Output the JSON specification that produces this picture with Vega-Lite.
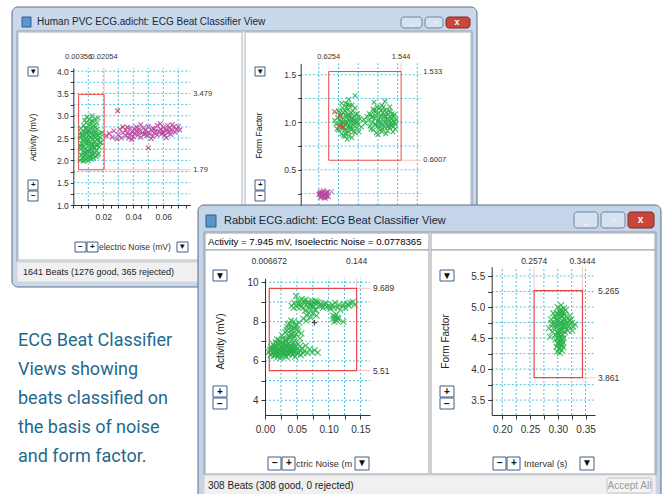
{
"$schema": "https://vega.github.io/schema/vega-lite/v6.json",
"width": 665, "height": 494, "autosize": "none", "padding": 0, "background": "white",
"config": {"view": {"stroke": null}, "font": "Liberation Sans",
  "axis": {"grid": false, "domainColor": "#333", "tickColor": "#333", "labelColor": "#333", "labelFont": "Liberation Sans", "titleFont": "Liberation Sans", "titleFontWeight": "normal", "titleColor": "#222", "labelOverlap": false, "labelFlush": false, "labelBound": false}},
"datasets": {
"pts": [
{"p":"A","c":"g","x":0.0045,"y":2.00},{"p":"A","c":"g","x":0.0052,"y":2.12},{"p":"A","c":"g","x":0.0048,"y":2.25},{"p":"A","c":"g","x":0.0055,"y":2.38},{"p":"A","c":"g","x":0.0047,"y":2.50},{"p":"A","c":"g","x":0.0053,"y":2.62},{"p":"A","c":"g","x":0.0050,"y":2.72},
{"p":"A","c":"g","x":0.0065,"y":1.98},{"p":"A","c":"g","x":0.0068,"y":2.08},{"p":"A","c":"g","x":0.0063,"y":2.20},{"p":"A","c":"g","x":0.0070,"y":2.31},{"p":"A","c":"g","x":0.0066,"y":2.44},{"p":"A","c":"g","x":0.0072,"y":2.55},{"p":"A","c":"g","x":0.0064,"y":2.66},{"p":"A","c":"g","x":0.0069,"y":2.78},
{"p":"A","c":"g","x":0.0082,"y":2.02},{"p":"A","c":"g","x":0.0085,"y":2.15},{"p":"A","c":"g","x":0.0080,"y":2.27},{"p":"A","c":"g","x":0.0088,"y":2.36},{"p":"A","c":"g","x":0.0083,"y":2.48},{"p":"A","c":"g","x":0.0087,"y":2.60},{"p":"A","c":"g","x":0.0081,"y":2.71},{"p":"A","c":"g","x":0.0086,"y":2.85},{"p":"A","c":"g","x":0.0090,"y":2.97},
{"p":"A","c":"g","x":0.0100,"y":1.99},{"p":"A","c":"g","x":0.0104,"y":2.10},{"p":"A","c":"g","x":0.0098,"y":2.22},{"p":"A","c":"g","x":0.0106,"y":2.33},{"p":"A","c":"g","x":0.0101,"y":2.45},{"p":"A","c":"g","x":0.0105,"y":2.57},{"p":"A","c":"g","x":0.0099,"y":2.68},{"p":"A","c":"g","x":0.0103,"y":2.80},{"p":"A","c":"g","x":0.0108,"y":2.92},
{"p":"A","c":"g","x":0.0118,"y":2.03},{"p":"A","c":"g","x":0.0122,"y":2.14},{"p":"A","c":"g","x":0.0116,"y":2.26},{"p":"A","c":"g","x":0.0124,"y":2.39},{"p":"A","c":"g","x":0.0119,"y":2.51},{"p":"A","c":"g","x":0.0121,"y":2.63},{"p":"A","c":"g","x":0.0126,"y":2.74},{"p":"A","c":"g","x":0.0120,"y":2.88},{"p":"A","c":"g","x":0.0125,"y":3.00},
{"p":"A","c":"g","x":0.0135,"y":2.05},{"p":"A","c":"g","x":0.0140,"y":2.18},{"p":"A","c":"g","x":0.0137,"y":2.30},{"p":"A","c":"g","x":0.0142,"y":2.42},{"p":"A","c":"g","x":0.0138,"y":2.54},{"p":"A","c":"g","x":0.0141,"y":2.66},{"p":"A","c":"g","x":0.0136,"y":2.77},{"p":"A","c":"g","x":0.0144,"y":2.93},
{"p":"A","c":"g","x":0.0152,"y":2.08},{"p":"A","c":"g","x":0.0156,"y":2.22},{"p":"A","c":"g","x":0.0150,"y":2.35},{"p":"A","c":"g","x":0.0158,"y":2.47},{"p":"A","c":"g","x":0.0154,"y":2.58},{"p":"A","c":"g","x":0.0160,"y":2.70},{"p":"A","c":"g","x":0.0157,"y":2.84},
{"p":"A","c":"g","x":0.0168,"y":2.15},{"p":"A","c":"g","x":0.0172,"y":2.30},{"p":"A","c":"g","x":0.0170,"y":2.45},{"p":"A","c":"g","x":0.0175,"y":2.60},{"p":"A","c":"g","x":0.0180,"y":2.52},{"p":"A","c":"g","x":0.0185,"y":2.40},{"p":"A","c":"g","x":0.0190,"y":2.62},{"p":"A","c":"g","x":0.0165,"y":2.95},
{"p":"A","c":"g","x":0.0058,"y":2.05},{"p":"A","c":"g","x":0.0075,"y":2.18},{"p":"A","c":"g","x":0.0092,"y":2.41},{"p":"A","c":"g","x":0.0111,"y":2.52},{"p":"A","c":"g","x":0.0130,"y":2.35},{"p":"A","c":"g","x":0.0061,"y":2.58},{"p":"A","c":"g","x":0.0095,"y":2.64},{"p":"A","c":"g","x":0.0128,"y":2.47},{"p":"A","c":"g","x":0.0078,"y":2.40},{"p":"A","c":"g","x":0.0112,"y":2.20},
{"p":"A","c":"g","x":0.0057,"y":2.30},{"p":"A","c":"g","x":0.0062,"y":2.46},{"p":"A","c":"g","x":0.0074,"y":2.62},{"p":"A","c":"g","x":0.0079,"y":2.10},{"p":"A","c":"g","x":0.0091,"y":2.20},{"p":"A","c":"g","x":0.0093,"y":2.52},{"p":"A","c":"g","x":0.0096,"y":2.06},{"p":"A","c":"g","x":0.0109,"y":2.40},{"p":"A","c":"g","x":0.0113,"y":2.62},{"p":"A","c":"g","x":0.0114,"y":2.08},{"p":"A","c":"g","x":0.0127,"y":2.20},{"p":"A","c":"g","x":0.0131,"y":2.58},{"p":"A","c":"g","x":0.0133,"y":2.12},{"p":"A","c":"g","x":0.0145,"y":2.28},{"p":"A","c":"g","x":0.0147,"y":2.50},{"p":"A","c":"g","x":0.0149,"y":2.62},{"p":"A","c":"g","x":0.0162,"y":2.35},{"p":"A","c":"g","x":0.0163,"y":2.55},{"p":"A","c":"g","x":0.0178,"y":2.40},{"p":"A","c":"g","x":0.0076,"y":2.90},{"p":"A","c":"g","x":0.0113,"y":2.83},{"p":"A","c":"g","x":0.0134,"y":2.86},{"p":"A","c":"g","x":0.0049,"y":2.33},{"p":"A","c":"g","x":0.0054,"y":2.56},{"p":"A","c":"g","x":0.0071,"y":2.00},{"p":"A","c":"g","x":0.0089,"y":2.72},{"p":"A","c":"g","x":0.0117,"y":2.70},{"p":"A","c":"g","x":0.0148,"y":2.75},{"p":"A","c":"g","x":0.0160,"y":2.12},{"p":"A","c":"g","x":0.0123,"y":2.30},
{"p":"A","c":"m","x":0.024,"y":2.60},{"p":"A","c":"m","x":0.026,"y":2.52},{"p":"A","c":"m","x":0.027,"y":2.66},{"p":"A","c":"m","x":0.029,"y":2.48},{"p":"A","c":"m","x":0.030,"y":2.58},{"p":"A","c":"m","x":0.031,"y":2.70},{"p":"A","c":"m","x":0.032,"y":2.50},{"p":"A","c":"m","x":0.033,"y":2.62},
{"p":"A","c":"m","x":0.035,"y":2.55},{"p":"A","c":"m","x":0.035,"y":2.68},{"p":"A","c":"m","x":0.036,"y":2.61},{"p":"A","c":"m","x":0.037,"y":2.50},{"p":"A","c":"m","x":0.038,"y":2.72},{"p":"A","c":"m","x":0.038,"y":2.58},{"p":"A","c":"m","x":0.039,"y":2.64},{"p":"A","c":"m","x":0.040,"y":2.53},{"p":"A","c":"m","x":0.041,"y":2.69},{"p":"A","c":"m","x":0.041,"y":2.60},{"p":"A","c":"m","x":0.042,"y":2.75},{"p":"A","c":"m","x":0.043,"y":2.56},{"p":"A","c":"m","x":0.044,"y":2.64},{"p":"A","c":"m","x":0.044,"y":2.70},{"p":"A","c":"m","x":0.045,"y":2.52},{"p":"A","c":"m","x":0.046,"y":2.62},{"p":"A","c":"m","x":0.047,"y":2.73},{"p":"A","c":"m","x":0.047,"y":2.58},{"p":"A","c":"m","x":0.048,"y":2.67},{"p":"A","c":"m","x":0.049,"y":2.55},{"p":"A","c":"m","x":0.050,"y":2.63},{"p":"A","c":"m","x":0.050,"y":2.76},{"p":"A","c":"m","x":0.051,"y":2.59},{"p":"A","c":"m","x":0.052,"y":2.68},{"p":"A","c":"m","x":0.053,"y":2.54},{"p":"A","c":"m","x":0.053,"y":2.72},{"p":"A","c":"m","x":0.054,"y":2.62},{"p":"A","c":"m","x":0.055,"y":2.66},{"p":"A","c":"m","x":0.056,"y":2.57},{"p":"A","c":"m","x":0.056,"y":2.78},{"p":"A","c":"m","x":0.057,"y":2.64},{"p":"A","c":"m","x":0.058,"y":2.70},{"p":"A","c":"m","x":0.059,"y":2.60},{"p":"A","c":"m","x":0.060,"y":2.74},{"p":"A","c":"m","x":0.060,"y":2.66},{"p":"A","c":"m","x":0.061,"y":2.56},{"p":"A","c":"m","x":0.062,"y":2.69},{"p":"A","c":"m","x":0.063,"y":2.78},{"p":"A","c":"m","x":0.063,"y":2.62},{"p":"A","c":"m","x":0.064,"y":2.72},{"p":"A","c":"m","x":0.065,"y":2.58},{"p":"A","c":"m","x":0.066,"y":2.67},{"p":"A","c":"m","x":0.067,"y":2.75},{"p":"A","c":"m","x":0.068,"y":2.63},{"p":"A","c":"m","x":0.069,"y":2.70},{"p":"A","c":"m","x":0.070,"y":2.76},{"p":"A","c":"m","x":0.071,"y":2.68},
{"p":"A","c":"m","x":0.039,"y":2.47},{"p":"A","c":"m","x":0.045,"y":2.80},{"p":"A","c":"m","x":0.052,"y":2.49},{"p":"A","c":"m","x":0.058,"y":2.82},{"p":"A","c":"m","x":0.062,"y":2.51},{"p":"A","c":"m","x":0.066,"y":2.80},{"p":"A","c":"m","x":0.042,"y":2.66},{"p":"A","c":"m","x":0.048,"y":2.60},{"p":"A","c":"m","x":0.054,"y":2.70},{"p":"A","c":"m","x":0.060,"y":2.61},{"p":"A","c":"m","x":0.064,"y":2.65},{"p":"A","c":"m","x":0.036,"y":2.74},
{"p":"A","c":"r","x":0.0296,"y":3.11},{"p":"A","c":"r","x":0.050,"y":2.28},{"p":"A","c":"r","x":0.022,"y":2.55},{"p":"A","c":"r","x":0.033,"y":2.75},
{"p":"B","c":"g","x":0.72,"y":0.98},{"p":"B","c":"g","x":0.74,"y":1.05},{"p":"B","c":"g","x":0.75,"y":0.92},{"p":"B","c":"g","x":0.77,"y":1.10},{"p":"B","c":"g","x":0.78,"y":1.00},{"p":"B","c":"g","x":0.79,"y":0.88},{"p":"B","c":"g","x":0.80,"y":1.15},{"p":"B","c":"g","x":0.81,"y":1.04},{"p":"B","c":"g","x":0.82,"y":0.95},{"p":"B","c":"g","x":0.83,"y":0.85},{"p":"B","c":"g","x":0.84,"y":1.20},{"p":"B","c":"g","x":0.84,"y":1.08},{"p":"B","c":"g","x":0.85,"y":0.99},{"p":"B","c":"g","x":0.86,"y":0.91},{"p":"B","c":"g","x":0.87,"y":1.13},{"p":"B","c":"g","x":0.87,"y":1.03},{"p":"B","c":"g","x":0.88,"y":0.86},{"p":"B","c":"g","x":0.89,"y":0.96},{"p":"B","c":"g","x":0.89,"y":1.18},{"p":"B","c":"g","x":0.90,"y":1.07},{"p":"B","c":"g","x":0.91,"y":0.93},{"p":"B","c":"g","x":0.92,"y":1.01},{"p":"B","c":"g","x":0.92,"y":0.84},{"p":"B","c":"g","x":0.93,"y":1.12},{"p":"B","c":"g","x":0.94,"y":0.97},{"p":"B","c":"g","x":0.95,"y":1.06},{"p":"B","c":"g","x":0.96,"y":0.89},{"p":"B","c":"g","x":0.97,"y":1.02},{"p":"B","c":"g","x":0.98,"y":0.94},{"p":"B","c":"g","x":0.99,"y":1.09},{"p":"B","c":"g","x":1.00,"y":0.98},{"p":"B","c":"g","x":1.02,"y":1.04},{"p":"B","c":"g","x":1.04,"y":0.95},{"p":"B","c":"g","x":0.70,"y":1.02},{"p":"B","c":"g","x":0.76,"y":0.96},{"p":"B","c":"g","x":0.80,"y":0.93},{"p":"B","c":"g","x":0.83,"y":1.12},{"p":"B","c":"g","x":0.86,"y":0.82},{"p":"B","c":"g","x":0.88,"y":1.24},{"p":"B","c":"g","x":0.90,"y":1.00},{"p":"B","c":"g","x":0.85,"y":1.05},{"p":"B","c":"g","x":0.91,"y":1.10},{"p":"B","c":"g","x":0.94,"y":0.90},{"p":"B","c":"g","x":0.96,"y":1.15},{"p":"B","c":"g","x":0.82,"y":1.00},{"p":"B","c":"g","x":0.87,"y":0.95},{"p":"B","c":"g","x":0.93,"y":1.04},{"p":"B","c":"g","x":0.78,"y":1.06},{"p":"B","c":"g","x":1.01,"y":0.90},{"p":"B","c":"g","x":0.99,"y":1.00},
{"p":"B","c":"g","x":0.73,"y":0.93},{"p":"B","c":"g","x":0.75,"y":1.12},{"p":"B","c":"g","x":0.79,"y":1.20},{"p":"B","c":"g","x":0.81,"y":0.86},{"p":"B","c":"g","x":0.83,"y":0.92},{"p":"B","c":"g","x":0.85,"y":1.16},{"p":"B","c":"g","x":0.86,"y":1.00},{"p":"B","c":"g","x":0.88,"y":0.90},{"p":"B","c":"g","x":0.89,"y":1.06},{"p":"B","c":"g","x":0.92,"y":1.18},{"p":"B","c":"g","x":0.95,"y":0.99},{"p":"B","c":"g","x":0.97,"y":1.08},{"p":"B","c":"g","x":1.00,"y":1.05},{"p":"B","c":"g","x":0.79,"y":0.98},{"p":"B","c":"g","x":0.84,"y":0.97},
{"p":"B","c":"g","x":0.76,"y":1.02},{"p":"B","c":"g","x":0.81,"y":1.10},{"p":"B","c":"g","x":0.84,"y":0.88},{"p":"B","c":"g","x":0.87,"y":1.08},{"p":"B","c":"g","x":0.90,"y":0.95},{"p":"B","c":"g","x":0.93,"y":0.93},{"p":"B","c":"g","x":0.91,"y":1.04},{"p":"B","c":"g","x":0.86,"y":1.19},{"p":"B","c":"g","x":0.95,"y":1.02},{"p":"B","c":"g","x":0.80,"y":1.00},
{"p":"B","c":"g","x":1.13,"y":1.02},{"p":"B","c":"g","x":1.15,"y":0.96},{"p":"B","c":"g","x":1.16,"y":1.08},{"p":"B","c":"g","x":1.18,"y":1.00},{"p":"B","c":"g","x":1.19,"y":0.92},{"p":"B","c":"g","x":1.20,"y":1.12},{"p":"B","c":"g","x":1.21,"y":1.04},{"p":"B","c":"g","x":1.22,"y":0.97},{"p":"B","c":"g","x":1.23,"y":0.89},{"p":"B","c":"g","x":1.24,"y":1.09},{"p":"B","c":"g","x":1.25,"y":1.01},{"p":"B","c":"g","x":1.26,"y":0.94},{"p":"B","c":"g","x":1.27,"y":1.15},{"p":"B","c":"g","x":1.28,"y":1.05},{"p":"B","c":"g","x":1.29,"y":0.98},{"p":"B","c":"g","x":1.30,"y":0.90},{"p":"B","c":"g","x":1.31,"y":1.10},{"p":"B","c":"g","x":1.32,"y":1.02},{"p":"B","c":"g","x":1.33,"y":0.95},{"p":"B","c":"g","x":1.34,"y":1.13},{"p":"B","c":"g","x":1.35,"y":1.06},{"p":"B","c":"g","x":1.36,"y":0.99},{"p":"B","c":"g","x":1.37,"y":0.91},{"p":"B","c":"g","x":1.38,"y":1.08},{"p":"B","c":"g","x":1.39,"y":1.01},{"p":"B","c":"g","x":1.40,"y":0.94},{"p":"B","c":"g","x":1.41,"y":1.11},{"p":"B","c":"g","x":1.42,"y":1.04},{"p":"B","c":"g","x":1.43,"y":0.97},{"p":"B","c":"g","x":1.44,"y":0.90},{"p":"B","c":"g","x":1.45,"y":1.06},{"p":"B","c":"g","x":1.46,"y":1.00},{"p":"B","c":"g","x":1.47,"y":0.93},{"p":"B","c":"g","x":1.48,"y":1.03},{"p":"B","c":"g","x":1.22,"y":1.07},{"p":"B","c":"g","x":1.27,"y":1.00},{"p":"B","c":"g","x":1.33,"y":1.06},{"p":"B","c":"g","x":1.38,"y":0.96},{"p":"B","c":"g","x":1.43,"y":1.09},{"p":"B","c":"g","x":1.30,"y":1.18},{"p":"B","c":"g","x":1.25,"y":0.87},{"p":"B","c":"g","x":1.35,"y":0.88},{"p":"B","c":"g","x":1.40,"y":1.16},{"p":"B","c":"g","x":1.17,"y":1.05},{"p":"B","c":"g","x":1.29,"y":1.12},{"p":"B","c":"g","x":1.34,"y":1.00},{"p":"B","c":"g","x":1.42,"y":1.00},
{"p":"B","c":"g","x":1.14,"y":1.09},{"p":"B","c":"g","x":1.16,"y":0.93},{"p":"B","c":"g","x":1.19,"y":1.14},{"p":"B","c":"g","x":1.21,"y":0.98},{"p":"B","c":"g","x":1.24,"y":1.16},{"p":"B","c":"g","x":1.26,"y":1.03},{"p":"B","c":"g","x":1.28,"y":0.92},{"p":"B","c":"g","x":1.31,"y":0.97},{"p":"B","c":"g","x":1.32,"y":1.16},{"p":"B","c":"g","x":1.36,"y":1.03},{"p":"B","c":"g","x":1.39,"y":1.12},{"p":"B","c":"g","x":1.41,"y":0.97},{"p":"B","c":"g","x":1.44,"y":1.02},{"p":"B","c":"g","x":1.46,"y":1.08},{"p":"B","c":"g","x":1.37,"y":0.95},
{"p":"B","c":"g","x":1.18,"y":1.06},{"p":"B","c":"g","x":1.23,"y":1.12},{"p":"B","c":"g","x":1.25,"y":0.96},{"p":"B","c":"g","x":1.29,"y":1.07},{"p":"B","c":"g","x":1.31,"y":0.93},{"p":"B","c":"g","x":1.35,"y":1.10},{"p":"B","c":"g","x":1.38,"y":1.04},{"p":"B","c":"g","x":1.41,"y":1.06},{"p":"B","c":"g","x":1.44,"y":0.95},{"p":"B","c":"g","x":1.47,"y":0.98},
{"p":"B","c":"g","x":0.96,"y":1.28},{"p":"B","c":"g","x":1.20,"y":1.21},{"p":"B","c":"g","x":1.34,"y":1.22},{"p":"B","c":"g","x":1.07,"y":1.03},{"p":"B","c":"g","x":1.09,"y":0.99},{"p":"B","c":"g","x":1.11,"y":1.06},
{"p":"B","c":"r","x":0.70,"y":1.11},{"p":"B","c":"r","x":0.77,"y":1.07},{"p":"B","c":"r","x":0.77,"y":0.96},{"p":"B","c":"r","x":0.80,"y":0.95},
{"p":"B","c":"m","x":0.50,"y":0.24},{"p":"B","c":"m","x":0.52,"y":0.27},{"p":"B","c":"m","x":0.52,"y":0.21},{"p":"B","c":"m","x":0.54,"y":0.25},{"p":"B","c":"m","x":0.55,"y":0.22},{"p":"B","c":"m","x":0.56,"y":0.28},{"p":"B","c":"m","x":0.57,"y":0.24},{"p":"B","c":"m","x":0.58,"y":0.20},{"p":"B","c":"m","x":0.59,"y":0.26},{"p":"B","c":"m","x":0.60,"y":0.23},{"p":"B","c":"m","x":0.61,"y":0.27},{"p":"B","c":"m","x":0.62,"y":0.22},{"p":"B","c":"m","x":0.53,"y":0.23},{"p":"B","c":"m","x":0.57,"y":0.21},{"p":"B","c":"m","x":0.55,"y":0.26},{"p":"B","c":"m","x":0.59,"y":0.22},{"p":"B","c":"m","x":0.51,"y":0.25},{"p":"B","c":"m","x":0.60,"y":0.25},
{"p":"B","c":"l","x":0.66,"y":0.27},
{"p":"C","c":"g","x":0.008,"y":6.55},{"p":"C","c":"g","x":0.010,"y":6.70},{"p":"C","c":"g","x":0.012,"y":6.40},{"p":"C","c":"g","x":0.013,"y":6.85},{"p":"C","c":"g","x":0.015,"y":6.60},{"p":"C","c":"g","x":0.016,"y":6.30},{"p":"C","c":"g","x":0.017,"y":6.95},{"p":"C","c":"g","x":0.018,"y":6.50},{"p":"C","c":"g","x":0.019,"y":6.75},{"p":"C","c":"g","x":0.020,"y":6.20},{"p":"C","c":"g","x":0.021,"y":6.62},{"p":"C","c":"g","x":0.022,"y":7.05},{"p":"C","c":"g","x":0.023,"y":6.40},{"p":"C","c":"g","x":0.024,"y":6.85},{"p":"C","c":"g","x":0.025,"y":6.55},{"p":"C","c":"g","x":0.026,"y":6.28},{"p":"C","c":"g","x":0.027,"y":6.70},{"p":"C","c":"g","x":0.028,"y":7.15},{"p":"C","c":"g","x":0.029,"y":6.45},{"p":"C","c":"g","x":0.030,"y":6.90},{"p":"C","c":"g","x":0.031,"y":6.60},{"p":"C","c":"g","x":0.032,"y":6.25},{"p":"C","c":"g","x":0.033,"y":6.78},{"p":"C","c":"g","x":0.034,"y":7.00},{"p":"C","c":"g","x":0.035,"y":6.50},{"p":"C","c":"g","x":0.036,"y":6.68},{"p":"C","c":"g","x":0.037,"y":6.35},{"p":"C","c":"g","x":0.038,"y":6.88},{"p":"C","c":"g","x":0.039,"y":6.58},{"p":"C","c":"g","x":0.040,"y":7.20},{"p":"C","c":"g","x":0.041,"y":6.42},{"p":"C","c":"g","x":0.042,"y":6.75},{"p":"C","c":"g","x":0.043,"y":6.30},{"p":"C","c":"g","x":0.044,"y":6.62},{"p":"C","c":"g","x":0.045,"y":6.95},{"p":"C","c":"g","x":0.046,"y":6.48},{"p":"C","c":"g","x":0.048,"y":6.70},{"p":"C","c":"g","x":0.050,"y":6.38},{"p":"C","c":"g","x":0.052,"y":6.85},{"p":"C","c":"g","x":0.054,"y":6.55},{"p":"C","c":"g","x":0.056,"y":6.30},{"p":"C","c":"g","x":0.058,"y":6.65},{"p":"C","c":"g","x":0.061,"y":6.50},{"p":"C","c":"g","x":0.064,"y":6.78},{"p":"C","c":"g","x":0.067,"y":6.40},{"p":"C","c":"g","x":0.070,"y":6.60},{"p":"C","c":"g","x":0.074,"y":6.45},{"p":"C","c":"g","x":0.078,"y":6.55},{"p":"C","c":"g","x":0.083,"y":6.42},{"p":"C","c":"g","x":0.006,"y":6.45},{"p":"C","c":"g","x":0.009,"y":6.30},{"p":"C","c":"g","x":0.014,"y":6.25},{"p":"C","c":"g","x":0.024,"y":6.15},{"p":"C","c":"g","x":0.034,"y":6.20},{"p":"C","c":"g","x":0.019,"y":7.10},{"p":"C","c":"g","x":0.027,"y":7.30},{"p":"C","c":"g","x":0.047,"y":6.20},{"p":"C","c":"g","x":0.036,"y":7.10},{"p":"C","c":"g","x":0.015,"y":6.48},{"p":"C","c":"g","x":0.025,"y":6.72},{"p":"C","c":"g","x":0.031,"y":6.38},{"p":"C","c":"g","x":0.038,"y":6.55},{"p":"C","c":"g","x":0.021,"y":6.50},{"p":"C","c":"g","x":0.029,"y":6.62},{"p":"C","c":"g","x":0.043,"y":6.85},
{"p":"C","c":"g","x":0.011,"y":6.55},{"p":"C","c":"g","x":0.014,"y":6.75},{"p":"C","c":"g","x":0.017,"y":6.42},{"p":"C","c":"g","x":0.020,"y":6.88},{"p":"C","c":"g","x":0.022,"y":6.35},{"p":"C","c":"g","x":0.023,"y":6.62},{"p":"C","c":"g","x":0.026,"y":6.48},{"p":"C","c":"g","x":0.028,"y":6.82},{"p":"C","c":"g","x":0.030,"y":6.30},{"p":"C","c":"g","x":0.033,"y":6.52},{"p":"C","c":"g","x":0.035,"y":6.85},{"p":"C","c":"g","x":0.037,"y":6.62},{"p":"C","c":"g","x":0.040,"y":6.45},{"p":"C","c":"g","x":0.042,"y":6.58},{"p":"C","c":"g","x":0.045,"y":6.40},{"p":"C","c":"g","x":0.047,"y":6.80},{"p":"C","c":"g","x":0.049,"y":6.55},{"p":"C","c":"g","x":0.051,"y":6.62},{"p":"C","c":"g","x":0.053,"y":6.40},{"p":"C","c":"g","x":0.018,"y":6.35},{"p":"C","c":"g","x":0.026,"y":6.92},{"p":"C","c":"g","x":0.032,"y":7.05},{"p":"C","c":"g","x":0.012,"y":6.60},{"p":"C","c":"g","x":0.039,"y":6.72},{"p":"C","c":"g","x":0.044,"y":6.50},{"p":"C","c":"g","x":0.016,"y":6.70},{"p":"C","c":"g","x":0.028,"y":6.55},{"p":"C","c":"g","x":0.035,"y":6.38},{"p":"C","c":"g","x":0.055,"y":6.75},{"p":"C","c":"g","x":0.060,"y":6.40},
{"p":"C","c":"g","x":0.032,"y":7.45},{"p":"C","c":"g","x":0.035,"y":7.70},{"p":"C","c":"g","x":0.037,"y":7.30},{"p":"C","c":"g","x":0.039,"y":7.90},{"p":"C","c":"g","x":0.040,"y":7.55},{"p":"C","c":"g","x":0.042,"y":7.75},{"p":"C","c":"g","x":0.044,"y":7.40},{"p":"C","c":"g","x":0.045,"y":8.00},{"p":"C","c":"g","x":0.047,"y":7.65},{"p":"C","c":"g","x":0.049,"y":7.35},{"p":"C","c":"g","x":0.050,"y":7.85},{"p":"C","c":"g","x":0.052,"y":7.50},{"p":"C","c":"g","x":0.054,"y":7.95},{"p":"C","c":"g","x":0.038,"y":7.20},{"p":"C","c":"g","x":0.046,"y":7.25},{"p":"C","c":"g","x":0.055,"y":7.15},{"p":"C","c":"g","x":0.041,"y":8.05},
{"p":"C","c":"g","x":0.034,"y":7.55},{"p":"C","c":"g","x":0.036,"y":7.85},{"p":"C","c":"g","x":0.043,"y":7.60},{"p":"C","c":"g","x":0.048,"y":7.80},{"p":"C","c":"g","x":0.051,"y":7.60},{"p":"C","c":"g","x":0.041,"y":7.35},{"p":"C","c":"g","x":0.057,"y":7.40},{"p":"C","c":"g","x":0.045,"y":7.15},
{"p":"C","c":"g","x":0.042,"y":8.80},{"p":"C","c":"g","x":0.046,"y":8.95},{"p":"C","c":"g","x":0.049,"y":9.30},{"p":"C","c":"g","x":0.050,"y":8.75},{"p":"C","c":"g","x":0.053,"y":9.05},{"p":"C","c":"g","x":0.056,"y":8.85},{"p":"C","c":"g","x":0.058,"y":9.15},{"p":"C","c":"g","x":0.060,"y":8.70},{"p":"C","c":"g","x":0.062,"y":8.95},{"p":"C","c":"g","x":0.064,"y":9.10},{"p":"C","c":"g","x":0.066,"y":8.80},{"p":"C","c":"g","x":0.068,"y":9.00},{"p":"C","c":"g","x":0.070,"y":8.65},{"p":"C","c":"g","x":0.072,"y":8.90},{"p":"C","c":"g","x":0.074,"y":9.05},{"p":"C","c":"g","x":0.076,"y":8.75},{"p":"C","c":"g","x":0.078,"y":8.95},{"p":"C","c":"g","x":0.080,"y":8.60},{"p":"C","c":"g","x":0.082,"y":9.00},{"p":"C","c":"g","x":0.085,"y":8.80},{"p":"C","c":"g","x":0.088,"y":8.90},{"p":"C","c":"g","x":0.091,"y":8.70},{"p":"C","c":"g","x":0.094,"y":8.85},{"p":"C","c":"g","x":0.097,"y":8.75},{"p":"C","c":"g","x":0.100,"y":8.80},{"p":"C","c":"g","x":0.103,"y":8.65},{"p":"C","c":"g","x":0.106,"y":8.85},{"p":"C","c":"g","x":0.110,"y":8.95},{"p":"C","c":"g","x":0.114,"y":8.70},{"p":"C","c":"g","x":0.118,"y":8.60},{"p":"C","c":"g","x":0.122,"y":8.80},{"p":"C","c":"g","x":0.126,"y":8.70},{"p":"C","c":"g","x":0.130,"y":8.90},{"p":"C","c":"g","x":0.134,"y":8.95},{"p":"C","c":"g","x":0.138,"y":9.00},{"p":"C","c":"g","x":0.141,"y":8.85},
{"p":"C","c":"g","x":0.045,"y":8.70},{"p":"C","c":"g","x":0.052,"y":8.90},{"p":"C","c":"g","x":0.057,"y":8.75},{"p":"C","c":"g","x":0.061,"y":9.05},{"p":"C","c":"g","x":0.067,"y":8.95},{"p":"C","c":"g","x":0.071,"y":8.80},{"p":"C","c":"g","x":0.075,"y":8.85},{"p":"C","c":"g","x":0.079,"y":9.05},{"p":"C","c":"g","x":0.084,"y":8.95},{"p":"C","c":"g","x":0.089,"y":8.80},{"p":"C","c":"g","x":0.095,"y":8.95},{"p":"C","c":"g","x":0.102,"y":8.75},{"p":"C","c":"g","x":0.108,"y":8.70},{"p":"C","c":"g","x":0.116,"y":8.85},{"p":"C","c":"g","x":0.124,"y":8.90},{"p":"C","c":"g","x":0.132,"y":8.80},
{"p":"C","c":"g","x":0.063,"y":8.55},{"p":"C","c":"g","x":0.066,"y":8.30},{"p":"C","c":"g","x":0.069,"y":8.45},{"p":"C","c":"g","x":0.072,"y":8.20},{"p":"C","c":"g","x":0.075,"y":8.40},{"p":"C","c":"g","x":0.078,"y":8.60},{"p":"C","c":"g","x":0.081,"y":8.30},{"p":"C","c":"g","x":0.060,"y":8.15},{"p":"C","c":"g","x":0.065,"y":8.05},
{"p":"C","c":"g","x":0.107,"y":8.30},{"p":"C","c":"g","x":0.108,"y":8.15},{"p":"C","c":"g","x":0.109,"y":8.00},{"p":"C","c":"g","x":0.110,"y":8.25},{"p":"C","c":"g","x":0.111,"y":8.10},{"p":"C","c":"g","x":0.112,"y":8.35},{"p":"C","c":"g","x":0.113,"y":8.05},{"p":"C","c":"g","x":0.114,"y":8.20},{"p":"C","c":"g","x":0.115,"y":8.12},{"p":"C","c":"g","x":0.123,"y":8.00},
{"p":"C","c":"k","x":0.0778,"y":7.945},
{"p":"D","c":"g","x":0.300,"y":5.00},{"p":"D","c":"g","x":0.306,"y":5.03},{"p":"D","c":"g","x":0.311,"y":4.98},{"p":"D","c":"g","x":0.303,"y":4.94},{"p":"D","c":"g","x":0.309,"y":4.92},{"p":"D","c":"g","x":0.314,"y":4.95},{"p":"D","c":"g","x":0.298,"y":4.90},
{"p":"D","c":"g","x":0.288,"y":4.80},{"p":"D","c":"g","x":0.292,"y":4.72},{"p":"D","c":"g","x":0.295,"y":4.85},{"p":"D","c":"g","x":0.297,"y":4.66},{"p":"D","c":"g","x":0.299,"y":4.78},{"p":"D","c":"g","x":0.301,"y":4.88},{"p":"D","c":"g","x":0.302,"y":4.70},{"p":"D","c":"g","x":0.304,"y":4.82},{"p":"D","c":"g","x":0.305,"y":4.62},{"p":"D","c":"g","x":0.307,"y":4.75},{"p":"D","c":"g","x":0.308,"y":4.86},{"p":"D","c":"g","x":0.310,"y":4.68},{"p":"D","c":"g","x":0.311,"y":4.80},{"p":"D","c":"g","x":0.313,"y":4.72},{"p":"D","c":"g","x":0.315,"y":4.84},{"p":"D","c":"g","x":0.316,"y":4.64},{"p":"D","c":"g","x":0.318,"y":4.76},{"p":"D","c":"g","x":0.320,"y":4.70},{"p":"D","c":"g","x":0.322,"y":4.78},{"p":"D","c":"g","x":0.325,"y":4.74},{"p":"D","c":"g","x":0.328,"y":4.68},{"p":"D","c":"g","x":0.331,"y":4.72},{"p":"D","c":"g","x":0.284,"y":4.66},{"p":"D","c":"g","x":0.290,"y":4.60},{"p":"D","c":"g","x":0.296,"y":4.55},{"p":"D","c":"g","x":0.300,"y":4.58},{"p":"D","c":"g","x":0.304,"y":4.52},{"p":"D","c":"g","x":0.309,"y":4.56},{"p":"D","c":"g","x":0.313,"y":4.60},{"p":"D","c":"g","x":0.318,"y":4.62},{"p":"D","c":"g","x":0.294,"y":4.74},{"p":"D","c":"g","x":0.306,"y":4.69},{"p":"D","c":"g","x":0.312,"y":4.88},
{"p":"D","c":"g","x":0.296,"y":4.48},{"p":"D","c":"g","x":0.300,"y":4.42},{"p":"D","c":"g","x":0.303,"y":4.46},{"p":"D","c":"g","x":0.306,"y":4.38},{"p":"D","c":"g","x":0.309,"y":4.44},{"p":"D","c":"g","x":0.298,"y":4.36},{"p":"D","c":"g","x":0.302,"y":4.32},{"p":"D","c":"g","x":0.305,"y":4.50},{"p":"D","c":"g","x":0.310,"y":4.35},{"p":"D","c":"g","x":0.299,"y":4.28},{"p":"D","c":"g","x":0.304,"y":4.26},{"p":"D","c":"g","x":0.307,"y":4.30},{"p":"D","c":"g","x":0.301,"y":4.40},{"p":"D","c":"g","x":0.308,"y":4.48},
{"p":"D","c":"g","x":0.286,"y":4.52},{"p":"D","c":"g","x":0.326,"y":4.62},{"p":"D","c":"g","x":0.322,"y":4.86},{"p":"D","c":"g","x":0.292,"y":4.90},
{"p":"D","c":"g","x":0.300,"y":4.80},{"p":"D","c":"g","x":0.303,"y":4.75},{"p":"D","c":"g","x":0.306,"y":4.85},{"p":"D","c":"g","x":0.308,"y":4.62},{"p":"D","c":"g","x":0.303,"y":4.64},{"p":"D","c":"g","x":0.310,"y":4.76},{"p":"D","c":"g","x":0.297,"y":4.72},{"p":"D","c":"g","x":0.313,"y":4.68},{"p":"D","c":"g","x":0.305,"y":4.90},{"p":"D","c":"g","x":0.299,"y":4.60},{"p":"D","c":"g","x":0.307,"y":4.55},{"p":"D","c":"g","x":0.311,"y":4.50},{"p":"D","c":"g","x":0.302,"y":4.56},{"p":"D","c":"g","x":0.305,"y":4.44},{"p":"D","c":"g","x":0.299,"y":4.50},{"p":"D","c":"g","x":0.306,"y":4.96},{"p":"D","c":"g","x":0.315,"y":4.78},{"p":"D","c":"g","x":0.319,"y":4.70},{"p":"D","c":"g","x":0.296,"y":4.80},{"p":"D","c":"g","x":0.310,"y":4.92},{"p":"D","c":"g","x":0.304,"y":4.34},{"p":"D","c":"g","x":0.308,"y":4.40},{"p":"D","c":"g","x":0.292,"y":4.66},{"p":"D","c":"g","x":0.324,"y":4.80},{"p":"D","c":"g","x":0.289,"y":4.74}
],
"thr": [
{"p":"A","x0":0.00356,"x1":0.02054,"y0":1.79,"y1":3.479},
{"p":"B","x0":0.6254,"x1":1.544,"y0":0.6007,"y1":1.533},
{"p":"C","x0":0.006672,"x1":0.144,"y0":5.51,"y1":9.689},
{"p":"D","x0":0.2574,"x1":0.3444,"y0":3.861,"y1":5.265}
],
"grid": [
{"p":"A","d":"v","v":0.01},{"p":"A","d":"v","v":0.02},{"p":"A","d":"v","v":0.03},{"p":"A","d":"v","v":0.04},{"p":"A","d":"v","v":0.05},{"p":"A","d":"v","v":0.06},{"p":"A","d":"v","v":0.07},
{"p":"A","d":"h","v":1.25},{"p":"A","d":"h","v":1.5},{"p":"A","d":"h","v":1.75},{"p":"A","d":"h","v":2},{"p":"A","d":"h","v":2.25},{"p":"A","d":"h","v":2.5},{"p":"A","d":"h","v":2.75},{"p":"A","d":"h","v":3},{"p":"A","d":"h","v":3.25},{"p":"A","d":"h","v":3.5},{"p":"A","d":"h","v":3.75},{"p":"A","d":"h","v":4},
{"p":"B","d":"v","v":0.5},{"p":"B","d":"v","v":0.75},{"p":"B","d":"v","v":1},{"p":"B","d":"v","v":1.25},{"p":"B","d":"v","v":1.5},{"p":"B","d":"v","v":1.75},
{"p":"B","d":"h","v":0.25},{"p":"B","d":"h","v":0.5},{"p":"B","d":"h","v":0.75},{"p":"B","d":"h","v":1},{"p":"B","d":"h","v":1.25},{"p":"B","d":"h","v":1.5},
{"p":"C","d":"v","v":0.025},{"p":"C","d":"v","v":0.05},{"p":"C","d":"v","v":0.075},{"p":"C","d":"v","v":0.1},{"p":"C","d":"v","v":0.125},{"p":"C","d":"v","v":0.15},
{"p":"C","d":"h","v":4},{"p":"C","d":"h","v":5},{"p":"C","d":"h","v":6},{"p":"C","d":"h","v":7},{"p":"C","d":"h","v":8},{"p":"C","d":"h","v":9},{"p":"C","d":"h","v":10},
{"p":"D","d":"v","v":0.2},{"p":"D","d":"v","v":0.225},{"p":"D","d":"v","v":0.25},{"p":"D","d":"v","v":0.275},{"p":"D","d":"v","v":0.3},{"p":"D","d":"v","v":0.325},{"p":"D","d":"v","v":0.35},
{"p":"D","d":"h","v":3.5},{"p":"D","d":"h","v":3.75},{"p":"D","d":"h","v":4},{"p":"D","d":"h","v":4.25},{"p":"D","d":"h","v":4.5},{"p":"D","d":"h","v":4.75},{"p":"D","d":"h","v":5},{"p":"D","d":"h","v":5.25},{"p":"D","d":"h","v":5.5}
],
"chrome": [
{"w":"b","k":"frame","l":12,"r":477,"t":7,"b":287},
{"w":"b","k":"client","l":17,"r":472,"t":31,"b":262},
{"w":"b","k":"box","l":18,"r":242,"t":32,"b":260},
{"w":"b","k":"box","l":245,"r":471,"t":32,"b":260},
{"w":"b","k":"status","l":17,"r":472,"t":262,"b":282},
{"w":"b","k":"cap","l":401,"r":422,"t":17,"b":28,"g":"_"},
{"w":"b","k":"cap","l":425,"r":443,"t":17,"b":28,"g":"▫"},
{"w":"b","k":"close","l":446,"r":470,"t":17,"b":28,"g":"x"},
{"w":"b","k":"icon","l":22,"r":31,"t":17,"b":27},
{"w":"b","k":"btn","l":28,"r":38,"t":67,"b":76,"g":"▼"},
{"w":"b","k":"btn","l":255,"r":265,"t":67,"b":76,"g":"▼"},
{"w":"b","k":"btn","l":28,"r":38,"t":180,"b":190,"g":"+"},
{"w":"b","k":"btn","l":255,"r":265,"t":180,"b":190,"g":"+"},
{"w":"b","k":"btn","l":28,"r":38,"t":191,"b":201,"g":"−"},
{"w":"b","k":"btn","l":255,"r":265,"t":191,"b":201,"g":"−"},
{"w":"b","k":"btn","l":75,"r":86,"t":242,"b":252,"g":"−"},
{"w":"b","k":"btn","l":87,"r":98,"t":242,"b":252,"g":"+"},
{"w":"b","k":"btn","l":177,"r":188,"t":242,"b":252,"g":"▼"},
{"w":"f","k":"frame","l":198,"r":661,"t":205,"b":505},
{"w":"f","k":"client","l":204,"r":656,"t":232,"b":475},
{"w":"f","k":"box","l":205,"r":429,"t":233,"b":250},
{"w":"f","k":"box","l":431,"r":655,"t":233,"b":250},
{"w":"f","k":"box","l":205,"r":429,"t":250,"b":474},
{"w":"f","k":"box","l":431,"r":655,"t":250,"b":474},
{"w":"f","k":"status","l":204,"r":656,"t":475,"b":500},
{"w":"f","k":"accept","l":607,"r":652,"t":478,"b":493},
{"w":"f","k":"cap","l":574,"r":598,"t":212,"b":228,"g":"_"},
{"w":"f","k":"cap","l":601,"r":625,"t":212,"b":228,"g":"▫"},
{"w":"f","k":"close","l":628,"r":654,"t":212,"b":228,"g":"x"},
{"w":"f","k":"icon","l":206,"r":216,"t":215,"b":227},
{"w":"f","k":"btn","l":213,"r":227,"t":270,"b":281,"g":"▼"},
{"w":"f","k":"btn","l":440,"r":454,"t":270,"b":281,"g":"▼"},
{"w":"f","k":"btn","l":213,"r":227,"t":386,"b":397,"g":"+"},
{"w":"f","k":"btn","l":440,"r":454,"t":386,"b":397,"g":"+"},
{"w":"f","k":"btn","l":213,"r":227,"t":398,"b":409,"g":"−"},
{"w":"f","k":"btn","l":440,"r":454,"t":398,"b":409,"g":"−"},
{"w":"f","k":"btn","l":268,"r":281,"t":457,"b":470,"g":"−"},
{"w":"f","k":"btn","l":282,"r":295,"t":457,"b":470,"g":"+"},
{"w":"f","k":"btn","l":355,"r":369,"t":457,"b":470,"g":"▼"},
{"w":"f","k":"btn","l":493,"r":506,"t":457,"b":470,"g":"−"},
{"w":"f","k":"btn","l":507,"r":520,"t":457,"b":470,"g":"+"},
{"w":"f","k":"btn","l":580,"r":594,"t":457,"b":470,"g":"▼"}
],
"ctext": [
{"w":"b","k":"title","x":37,"y":22,"t":"Human PVC ECG.adicht: ECG Beat Classifier View"},
{"w":"b","k":"status","x":23,"y":272,"t":"1641 Beats (1276 good, 365 rejected)"},
{"w":"b","k":"axis","x":99,"y":247,"t":"electric Noise (mV)"},
{"w":"f","k":"title","x":224,"y":221,"t":"Rabbit ECG.adicht: ECG Beat Classifier View"},
{"w":"f","k":"header","x":208,"y":242,"t":"Activity = 7.945 mV, Isoelectric Noise = 0.0778365"},
{"w":"f","k":"status","x":208,"y":486,"t":"308 Beats (308 good, 0 rejected)"},
{"w":"f","k":"accept","x":629.5,"y":486,"t":"Accept All"},
{"w":"f","k":"axis","x":296,"y":464,"t":"ctric Noise (m"},
{"w":"f","k":"axis","x":524,"y":464,"t":"Interval (s)"},
{"w":"f","k":"caption","x":18,"y":346,"t":"ECG Beat Classifier"},
{"w":"f","k":"caption","x":18,"y":375,"t":"Views showing"},
{"w":"f","k":"caption","x":18,"y":404,"t":"beats classified on"},
{"w":"f","k":"caption","x":18,"y":433,"t":"the basis of noise"},
{"w":"f","k":"caption","x":18,"y":462,"t":"and form factor."}
]
},
"resolve": {"scale": {"x": "independent", "y": "independent"}, "axis": {"x": "independent", "y": "independent"}},
"layer": [
{"layer": [
 {"data":{"name":"chrome"},"transform":[{"filter":"datum.w=='b' && datum.k=='frame'"}],"mark":{"type":"rect","fill":"#c9d8ea","stroke":"#5c6f85","cornerRadius":6},
  "encoding":{"x":{"field":"l","type":"quantitative","scale":{"domain":[0,665],"range":[0,665],"nice":false,"zero":false},"axis":null},"x2":{"field":"r"},"y":{"field":"t","type":"quantitative","scale":{"domain":[0,494],"range":[0,494],"nice":false,"zero":false},"axis":null},"y2":{"field":"b"}}},
 {"data":{"name":"chrome"},"transform":[{"filter":"datum.w=='b' && datum.k=='client'"}],"mark":{"type":"rect","fill":"#ffffff","stroke":"#8e9aa8"},
  "encoding":{"x":{"field":"l","type":"quantitative","axis":null},"x2":{"field":"r"},"y":{"field":"t","type":"quantitative","axis":null},"y2":{"field":"b"}}},
 {"data":{"name":"chrome"},"transform":[{"filter":"datum.w=='b' && datum.k=='box'"}],"mark":{"type":"rect","fill":"#ffffff","stroke":"#a8b0ba"},
  "encoding":{"x":{"field":"l","type":"quantitative","axis":null},"x2":{"field":"r"},"y":{"field":"t","type":"quantitative","axis":null},"y2":{"field":"b"}}},
 {"data":{"name":"chrome"},"transform":[{"filter":"datum.w=='b' && datum.k=='status'"}],"mark":{"type":"rect","fill":"#f0f0f0","stroke":"#d4d4d4"},
  "encoding":{"x":{"field":"l","type":"quantitative","axis":null},"x2":{"field":"r"},"y":{"field":"t","type":"quantitative","axis":null},"y2":{"field":"b"}}},
 {"data":{"name":"chrome"},"transform":[{"filter":"datum.w=='b' && datum.k=='cap'"}],"mark":{"type":"rect","fill":"#d6e2f0","stroke":"#6f8399","cornerRadius":3},
  "encoding":{"x":{"field":"l","type":"quantitative","axis":null},"x2":{"field":"r"},"y":{"field":"t","type":"quantitative","axis":null},"y2":{"field":"b"}}},
 {"data":{"name":"chrome"},"transform":[{"filter":"datum.w=='b' && datum.k=='close'"}],"mark":{"type":"rect","fill":"#c8463c","stroke":"#7f2a22","cornerRadius":3},
  "encoding":{"x":{"field":"l","type":"quantitative","axis":null},"x2":{"field":"r"},"y":{"field":"t","type":"quantitative","axis":null},"y2":{"field":"b"}}},
 {"data":{"name":"chrome"},"transform":[{"filter":"datum.w=='b' && datum.k=='icon'"}],"mark":{"type":"rect","fill":"#5b95c9","stroke":"#2f5f90"},
  "encoding":{"x":{"field":"l","type":"quantitative","axis":null},"x2":{"field":"r"},"y":{"field":"t","type":"quantitative","axis":null},"y2":{"field":"b"}}},
 {"data":{"name":"chrome"},"transform":[{"filter":"datum.w=='b' && (datum.k=='cap' || datum.k=='close')"}],"mark":{"type":"text","color":"#ffffff","fontWeight":"bold","fontSize":9,"align":"center","baseline":"middle","dx":11,"dy":5},
  "encoding":{"x":{"field":"l","type":"quantitative","axis":null},"y":{"field":"t","type":"quantitative","axis":null},"text":{"field":"g"}}},
 {"data":{"name":"ctext"},"transform":[{"filter":"datum.w=='b' && datum.k=='title'"}],"mark":{"type":"text","color":"#15283d","fontSize":10,"align":"left","baseline":"middle"},
  "encoding":{"x":{"field":"x","type":"quantitative","axis":null},"y":{"field":"y","type":"quantitative","axis":null},"text":{"field":"t"}}},
 {"data":{"name":"ctext"},"transform":[{"filter":"datum.w=='b' && datum.k=='status'"}],"mark":{"type":"text","color":"#222222","fontSize":9,"align":"left","baseline":"middle"},
  "encoding":{"x":{"field":"x","type":"quantitative","axis":null},"y":{"field":"y","type":"quantitative","axis":null},"text":{"field":"t"}}},
 {"data":{"name":"ctext"},"transform":[{"filter":"datum.w=='b' && datum.k=='axis'"}],"mark":{"type":"text","color":"#333333","fontSize":8.5,"align":"left","baseline":"middle"},
  "encoding":{"x":{"field":"x","type":"quantitative","axis":null},"y":{"field":"y","type":"quantitative","axis":null},"text":{"field":"t"}}},
 {"data":{"name":"chrome"},"transform":[{"filter":"datum.w=='b' && datum.k=='btn'"}],"mark":{"type":"rect","fill":"#ffffff","stroke":"#3d5f86"},
  "encoding":{"x":{"field":"l","type":"quantitative","axis":null},"x2":{"field":"r"},"y":{"field":"t","type":"quantitative","axis":null},"y2":{"field":"b"}}},
 {"data":{"name":"chrome"},"transform":[{"filter":"datum.w=='b' && datum.k=='btn'"}],"mark":{"type":"text","color":"#111111","fontWeight":"bold","fontSize":8,"align":"center","baseline":"middle","dx":5.3,"dy":5},
  "encoding":{"x":{"field":"l","type":"quantitative","axis":null},"y":{"field":"t","type":"quantitative","axis":null},"text":{"field":"g"}}}
]},
{"layer": [
 {"data":{"name":"grid"},"transform":[{"filter":"datum.p=='A' && datum.d=='v'"}],"mark":{"type":"rule","stroke":"#4fc3dc","strokeDash":[2,2]},
  "encoding":{"x":{"field":"v","type":"quantitative","scale":{"domain":[0,0.078],"range":[73.3,190.3],"nice":false,"zero":false}},"y":{"datum":1,"type":"quantitative","scale":{"domain":[1,4.07],"range":[205,68],"nice":false,"zero":false}},"y2":{"datum":4.07}}},
 {"data":{"name":"grid"},"transform":[{"filter":"datum.p=='A' && datum.d=='h'"}],"mark":{"type":"rule","stroke":"#4fc3dc","strokeDash":[2,2]},
  "encoding":{"y":{"field":"v","type":"quantitative"},"x":{"datum":0,"type":"quantitative"},"x2":{"datum":0.078}}},
 {"data":{"name":"thr"},"transform":[{"filter":"datum.p=='A'"}],"mark":{"type":"rule","stroke":"#f6c4c4"},
  "encoding":{"x":{"field":"x1","type":"quantitative"},"y":{"field":"y1","type":"quantitative"},"y2":{"datum":4.07}}},
 {"data":{"name":"thr"},"transform":[{"filter":"datum.p=='A'"}],"mark":{"type":"rule","stroke":"#f6c4c4"},
  "encoding":{"x":{"field":"x1","type":"quantitative"},"x2":{"datum":0.078},"y":{"field":"y0","type":"quantitative"}}},
 {"data":{"name":"thr"},"transform":[{"filter":"datum.p=='A'"}],"mark":{"type":"rect","fillOpacity":0,"stroke":"#ea4848","strokeWidth":1},
  "encoding":{"x":{"field":"x0","type":"quantitative"},"x2":{"field":"x1"},"y":{"field":"y0","type":"quantitative"},"y2":{"field":"y1"}}},
 {"data":{"name":"pts"},"transform":[{"filter":"datum.p=='A'"}],"mark":{"type":"point","shape":"M-1,-1L1,1M-1,1L1,-1","filled":false,"strokeWidth":1.1,"size":22,"opacity":0.9},
  "encoding":{
   "x":{"field":"x","type":"quantitative","axis":{"zindex":1,"orient":"bottom","offset":-289,"values":[0,0.005,0.01,0.015,0.02,0.025,0.03,0.035,0.04,0.045,0.05,0.055,0.06,0.065,0.07,0.075],"labelExpr":"datum.value>0.001 && abs(datum.value*50-round(datum.value*50))<0.01 ? format(datum.value,'.2f') : ''","labelFontSize":8.5,"tickSize":3,"labelPadding":4,"title":null}},
   "y":{"field":"y","type":"quantitative","axis":{"zindex":1,"orient":"left","offset":-73.3,"values":[1,1.25,1.5,1.75,2,2.25,2.5,2.75,3,3.25,3.5,3.75,4],"labelExpr":"abs(datum.value*2-round(datum.value*2))<0.01 ? format(datum.value,'.1f') : ''","labelFontSize":8.5,"tickSize":3,"labelPadding":2,"title":"Activity (mV)","titleFontSize":8.5,"titleX":-41,"titleY":137,"titleBaseline":"middle","titleAngle":-90}},
   "color":{"field":"c","type":"nominal","scale":{"domain":["g","m","r","l"],"range":["#2bb24c","#b8479f","#e23b3b","#a08ad8"]},"legend":null}}},
 {"data":{"name":"thr"},"transform":[{"filter":"datum.p=='A'"}],"mark":{"type":"text","fontSize":7.5,"color":"#333","align":"center","baseline":"middle","dy":-11},
  "encoding":{"x":{"field":"x0","type":"quantitative"},"y":{"datum":4.07,"type":"quantitative"},"text":{"field":"x0","type":"nominal"}}},
 {"data":{"name":"thr"},"transform":[{"filter":"datum.p=='A'"}],"mark":{"type":"text","fontSize":7.5,"color":"#333","align":"center","baseline":"middle","dy":-11},
  "encoding":{"x":{"field":"x1","type":"quantitative"},"y":{"datum":4.07,"type":"quantitative"},"text":{"field":"x1","type":"nominal"}}},
 {"data":{"name":"thr"},"transform":[{"filter":"datum.p=='A'"}],"mark":{"type":"text","fontSize":7.5,"color":"#333","align":"left","baseline":"middle","dx":3},
  "encoding":{"x":{"datum":0.078,"type":"quantitative"},"y":{"field":"y1","type":"quantitative"},"text":{"field":"y1","type":"nominal"}}},
 {"data":{"name":"thr"},"transform":[{"filter":"datum.p=='A'"}],"mark":{"type":"text","fontSize":7.5,"color":"#333","align":"left","baseline":"middle","dx":3},
  "encoding":{"x":{"datum":0.078,"type":"quantitative"},"y":{"field":"y0","type":"quantitative"},"text":{"field":"y0","type":"nominal"}}}
]},
{"layer": [
 {"data":{"name":"grid"},"transform":[{"filter":"datum.p=='B' && datum.d=='v'"}],"mark":{"type":"rule","stroke":"#4fc3dc","strokeDash":[2,2]},
  "encoding":{"x":{"field":"v","type":"quantitative","scale":{"domain":[0.27,1.8],"range":[300.7,421.3],"nice":false,"zero":false},"axis":null},"y":{"datum":0.13,"type":"quantitative","scale":{"domain":[0.13,1.62],"range":[205,63.3],"nice":false,"zero":false}},"y2":{"datum":1.62}}},
 {"data":{"name":"grid"},"transform":[{"filter":"datum.p=='B' && datum.d=='h'"}],"mark":{"type":"rule","stroke":"#4fc3dc","strokeDash":[2,2]},
  "encoding":{"y":{"field":"v","type":"quantitative"},"x":{"datum":0.27,"type":"quantitative","axis":null},"x2":{"datum":1.8}}},
 {"data":{"name":"thr"},"transform":[{"filter":"datum.p=='B'"}],"mark":{"type":"rule","stroke":"#f6c4c4"},
  "encoding":{"x":{"field":"x1","type":"quantitative","axis":null},"y":{"field":"y1","type":"quantitative"},"y2":{"datum":1.62}}},
 {"data":{"name":"thr"},"transform":[{"filter":"datum.p=='B'"}],"mark":{"type":"rule","stroke":"#f6c4c4"},
  "encoding":{"x":{"field":"x1","type":"quantitative","axis":null},"x2":{"datum":1.8},"y":{"field":"y0","type":"quantitative"}}},
 {"data":{"name":"thr"},"transform":[{"filter":"datum.p=='B'"}],"mark":{"type":"rect","fillOpacity":0,"stroke":"#ea4848","strokeWidth":1},
  "encoding":{"x":{"field":"x0","type":"quantitative","axis":null},"x2":{"field":"x1"},"y":{"field":"y0","type":"quantitative"},"y2":{"field":"y1"}}},
 {"data":{"name":"pts"},"transform":[{"filter":"datum.p=='B'"}],"mark":{"type":"point","shape":"M-1,-1L1,1M-1,1L1,-1","filled":false,"strokeWidth":1.1,"size":22,"opacity":0.9},
  "encoding":{
   "x":{"field":"x","type":"quantitative","axis":null},
   "y":{"field":"y","type":"quantitative","axis":{"zindex":1,"orient":"left","offset":-300.7,"values":[0.25,0.5,0.75,1,1.25,1.5],"labelExpr":"abs(datum.value*2-round(datum.value*2))<0.01 ? format(datum.value,'.1f') : ''","labelFontSize":8.5,"tickSize":3,"labelPadding":2,"title":"Form Factor","titleFontSize":8.5,"titleX":-42.7,"titleY":135,"titleBaseline":"middle","titleAngle":-90}},
   "color":{"field":"c","type":"nominal","scale":{"domain":["g","m","r","l"],"range":["#2bb24c","#b8479f","#e23b3b","#a08ad8"]},"legend":null}}},
 {"data":{"name":"thr"},"transform":[{"filter":"datum.p=='B'"}],"mark":{"type":"text","fontSize":7.5,"color":"#333","align":"center","baseline":"middle","dy":-6},
  "encoding":{"x":{"field":"x0","type":"quantitative","axis":null},"y":{"datum":1.62,"type":"quantitative"},"text":{"field":"x0","type":"nominal"}}},
 {"data":{"name":"thr"},"transform":[{"filter":"datum.p=='B'"}],"mark":{"type":"text","fontSize":7.5,"color":"#333","align":"center","baseline":"middle","dy":-6},
  "encoding":{"x":{"field":"x1","type":"quantitative","axis":null},"y":{"datum":1.62,"type":"quantitative"},"text":{"field":"x1","type":"nominal"}}},
 {"data":{"name":"thr"},"transform":[{"filter":"datum.p=='B'"}],"mark":{"type":"text","fontSize":7.5,"color":"#333","align":"left","baseline":"middle","dx":2},
  "encoding":{"x":{"datum":1.8,"type":"quantitative","axis":null},"y":{"field":"y1","type":"quantitative"},"text":{"field":"y1","type":"nominal"}}},
 {"data":{"name":"thr"},"transform":[{"filter":"datum.p=='B'"}],"mark":{"type":"text","fontSize":7.5,"color":"#333","align":"left","baseline":"middle","dx":2},
  "encoding":{"x":{"datum":1.8,"type":"quantitative","axis":null},"y":{"field":"y0","type":"quantitative"},"text":{"field":"y0","type":"nominal"}}}
]},
{"layer": [
 {"data":{"name":"chrome"},"transform":[{"filter":"datum.w=='f' && datum.k=='frame'"}],"mark":{"type":"rect","fill":"#c4d5e9","stroke":"#5c6f85","cornerRadius":6},
  "encoding":{"x":{"field":"l","type":"quantitative","scale":{"domain":[0,665],"range":[0,665],"nice":false,"zero":false},"axis":null},"x2":{"field":"r"},"y":{"field":"t","type":"quantitative","scale":{"domain":[0,494],"range":[0,494],"nice":false,"zero":false},"axis":null},"y2":{"field":"b"}}},
 {"data":{"name":"chrome"},"transform":[{"filter":"datum.w=='f' && datum.k=='client'"}],"mark":{"type":"rect","fill":"#ffffff","stroke":"#8e9aa8"},
  "encoding":{"x":{"field":"l","type":"quantitative","axis":null},"x2":{"field":"r"},"y":{"field":"t","type":"quantitative","axis":null},"y2":{"field":"b"}}},
 {"data":{"name":"chrome"},"transform":[{"filter":"datum.w=='f' && datum.k=='box'"}],"mark":{"type":"rect","fill":"#ffffff","stroke":"#9aa2ac"},
  "encoding":{"x":{"field":"l","type":"quantitative","axis":null},"x2":{"field":"r"},"y":{"field":"t","type":"quantitative","axis":null},"y2":{"field":"b"}}},
 {"data":{"name":"chrome"},"transform":[{"filter":"datum.w=='f' && datum.k=='status'"}],"mark":{"type":"rect","fill":"#f0f0f0","stroke":"#d4d4d4"},
  "encoding":{"x":{"field":"l","type":"quantitative","axis":null},"x2":{"field":"r"},"y":{"field":"t","type":"quantitative","axis":null},"y2":{"field":"b"}}},
 {"data":{"name":"chrome"},"transform":[{"filter":"datum.w=='f' && datum.k=='accept'"}],"mark":{"type":"rect","fill":"#f4f4f4","stroke":"#c2c2c2","cornerRadius":2},
  "encoding":{"x":{"field":"l","type":"quantitative","axis":null},"x2":{"field":"r"},"y":{"field":"t","type":"quantitative","axis":null},"y2":{"field":"b"}}},
 {"data":{"name":"chrome"},"transform":[{"filter":"datum.w=='f' && datum.k=='cap'"}],"mark":{"type":"rect","fill":"#d6e2f0","stroke":"#6f8399","cornerRadius":3},
  "encoding":{"x":{"field":"l","type":"quantitative","axis":null},"x2":{"field":"r"},"y":{"field":"t","type":"quantitative","axis":null},"y2":{"field":"b"}}},
 {"data":{"name":"chrome"},"transform":[{"filter":"datum.w=='f' && datum.k=='close'"}],"mark":{"type":"rect","fill":"#c8463c","stroke":"#7f2a22","cornerRadius":3},
  "encoding":{"x":{"field":"l","type":"quantitative","axis":null},"x2":{"field":"r"},"y":{"field":"t","type":"quantitative","axis":null},"y2":{"field":"b"}}},
 {"data":{"name":"chrome"},"transform":[{"filter":"datum.w=='f' && datum.k=='icon'"}],"mark":{"type":"rect","fill":"#5b95c9","stroke":"#2f5f90"},
  "encoding":{"x":{"field":"l","type":"quantitative","axis":null},"x2":{"field":"r"},"y":{"field":"t","type":"quantitative","axis":null},"y2":{"field":"b"}}},
 {"data":{"name":"chrome"},"transform":[{"filter":"datum.w=='f' && (datum.k=='cap' || datum.k=='close')"}],"mark":{"type":"text","color":"#ffffff","fontWeight":"bold","fontSize":10,"align":"center","baseline":"middle","dx":12.5,"dy":7.5},
  "encoding":{"x":{"field":"l","type":"quantitative","axis":null},"y":{"field":"t","type":"quantitative","axis":null},"text":{"field":"g"}}},
 {"data":{"name":"ctext"},"transform":[{"filter":"datum.w=='f' && datum.k=='title'"}],"mark":{"type":"text","color":"#15283d","fontSize":11,"align":"left","baseline":"middle"},
  "encoding":{"x":{"field":"x","type":"quantitative","axis":null},"y":{"field":"y","type":"quantitative","axis":null},"text":{"field":"t"}}},
 {"data":{"name":"ctext"},"transform":[{"filter":"datum.w=='f' && datum.k=='header'"}],"mark":{"type":"text","color":"#000000","fontSize":9.6,"align":"left","baseline":"middle"},
  "encoding":{"x":{"field":"x","type":"quantitative","axis":null},"y":{"field":"y","type":"quantitative","axis":null},"text":{"field":"t"}}},
 {"data":{"name":"ctext"},"transform":[{"filter":"datum.w=='f' && datum.k=='status'"}],"mark":{"type":"text","color":"#222222","fontSize":10,"align":"left","baseline":"middle"},
  "encoding":{"x":{"field":"x","type":"quantitative","axis":null},"y":{"field":"y","type":"quantitative","axis":null},"text":{"field":"t"}}},
 {"data":{"name":"ctext"},"transform":[{"filter":"datum.w=='f' && datum.k=='accept'"}],"mark":{"type":"text","color":"#9a9a9a","fontSize":10,"align":"center","baseline":"middle"},
  "encoding":{"x":{"field":"x","type":"quantitative","axis":null},"y":{"field":"y","type":"quantitative","axis":null},"text":{"field":"t"}}},
 {"data":{"name":"ctext"},"transform":[{"filter":"datum.w=='f' && datum.k=='axis'"}],"mark":{"type":"text","color":"#333333","fontSize":9.2,"align":"left","baseline":"middle"},
  "encoding":{"x":{"field":"x","type":"quantitative","axis":null},"y":{"field":"y","type":"quantitative","axis":null},"text":{"field":"t"}}},
 {"data":{"name":"ctext"},"transform":[{"filter":"datum.k=='caption'"}],"mark":{"type":"text","color":"#1f6a8c","fontSize":18,"font":"Roboto","align":"left","baseline":"alphabetic"},
  "encoding":{"x":{"field":"x","type":"quantitative","axis":null},"y":{"field":"y","type":"quantitative","axis":null},"text":{"field":"t"}}},
 {"data":{"name":"chrome"},"transform":[{"filter":"datum.w=='f' && datum.k=='btn'"}],"mark":{"type":"rect","fill":"#ffffff","stroke":"#3d5f86"},
  "encoding":{"x":{"field":"l","type":"quantitative","axis":null},"x2":{"field":"r"},"y":{"field":"t","type":"quantitative","axis":null},"y2":{"field":"b"}}},
 {"data":{"name":"chrome"},"transform":[{"filter":"datum.w=='f' && datum.k=='btn'"}],"mark":{"type":"text","color":"#111111","fontWeight":"bold","fontSize":10,"align":"center","baseline":"middle","dx":7,"dy":5.8},
  "encoding":{"x":{"field":"l","type":"quantitative","axis":null},"y":{"field":"t","type":"quantitative","axis":null},"text":{"field":"g"}}}
]},
{"layer": [
 {"data":{"name":"grid"},"transform":[{"filter":"datum.p=='C' && datum.d=='v'"}],"mark":{"type":"rule","stroke":"#4fc3dc","strokeDash":[2,2]},
  "encoding":{"x":{"field":"v","type":"quantitative","scale":{"domain":[0,0.165],"range":[265,370],"nice":false,"zero":false}},"y":{"datum":3.25,"type":"quantitative","scale":{"domain":[3.25,10.2],"range":[415,278.3],"nice":false,"zero":false}},"y2":{"datum":10.2}}},
 {"data":{"name":"grid"},"transform":[{"filter":"datum.p=='C' && datum.d=='h'"}],"mark":{"type":"rule","stroke":"#4fc3dc","strokeDash":[2,2]},
  "encoding":{"y":{"field":"v","type":"quantitative"},"x":{"datum":0,"type":"quantitative"},"x2":{"datum":0.165}}},
 {"data":{"name":"thr"},"transform":[{"filter":"datum.p=='C'"}],"mark":{"type":"rule","stroke":"#f6c4c4"},
  "encoding":{"x":{"field":"x1","type":"quantitative"},"y":{"field":"y1","type":"quantitative"},"y2":{"datum":10.2}}},
 {"data":{"name":"thr"},"transform":[{"filter":"datum.p=='C'"}],"mark":{"type":"rule","stroke":"#f6c4c4"},
  "encoding":{"x":{"field":"x1","type":"quantitative"},"x2":{"datum":0.165},"y":{"field":"y1","type":"quantitative"}}},
 {"data":{"name":"thr"},"transform":[{"filter":"datum.p=='C'"}],"mark":{"type":"rule","stroke":"#f6c4c4"},
  "encoding":{"x":{"field":"x1","type":"quantitative"},"x2":{"datum":0.165},"y":{"field":"y0","type":"quantitative"}}},
 {"data":{"name":"thr"},"transform":[{"filter":"datum.p=='C'"}],"mark":{"type":"rect","fillOpacity":0,"stroke":"#ea4848","strokeWidth":1.2},
  "encoding":{"x":{"field":"x0","type":"quantitative"},"x2":{"field":"x1"},"y":{"field":"y0","type":"quantitative"},"y2":{"field":"y1"}}},
 {"data":{"name":"pts"},"transform":[{"filter":"datum.p=='C' && datum.c!='k'"}],"mark":{"type":"point","shape":"M-1,-1L1,1M-1,1L1,-1","filled":false,"strokeWidth":1.1,"size":36,"opacity":0.85},
  "encoding":{
   "x":{"field":"x","type":"quantitative","axis":{"zindex":1,"orient":"bottom","offset":-79,"values":[0,0.025,0.05,0.075,0.1,0.125,0.15],"labelExpr":"abs(datum.value*20-round(datum.value*20))<0.01 ? format(datum.value,'.2f') : ''","labelFontSize":10,"tickSize":4,"labelPadding":5,"title":null}},
   "y":{"field":"y","type":"quantitative","axis":{"zindex":1,"orient":"left","offset":-265,"values":[4,5,6,7,8,9,10],"labelExpr":"datum.value%2==0 ? format(datum.value,'d') : ''","labelFontSize":10,"tickSize":4,"labelPadding":3,"title":"Activity (mV)","titleFontSize":10,"titleX":-45,"titleY":341,"titleBaseline":"middle","titleAngle":-90}},
   "color":{"field":"c","type":"nominal","scale":{"domain":["g","m","r","l"],"range":["#2bb24c","#b8479f","#e23b3b","#a08ad8"]},"legend":null}}},
 {"data":{"name":"pts"},"transform":[{"filter":"datum.p=='C' && datum.c=='k'"}],"mark":{"type":"point","shape":"M-1,0L1,0M0,-1L0,1","filled":false,"strokeWidth":1.2,"size":30,"color":"#000000"},
  "encoding":{"x":{"field":"x","type":"quantitative"},"y":{"field":"y","type":"quantitative"}}},
 {"data":{"name":"thr"},"transform":[{"filter":"datum.p=='C'"}],"mark":{"type":"text","fontSize":8.5,"color":"#333","align":"center","baseline":"middle","dy":-17.5},
  "encoding":{"x":{"field":"x0","type":"quantitative"},"y":{"datum":10.2,"type":"quantitative"},"text":{"field":"x0","type":"nominal"}}},
 {"data":{"name":"thr"},"transform":[{"filter":"datum.p=='C'"}],"mark":{"type":"text","fontSize":8.5,"color":"#333","align":"center","baseline":"middle","dy":-17.5},
  "encoding":{"x":{"field":"x1","type":"quantitative"},"y":{"datum":10.2,"type":"quantitative"},"text":{"field":"x1","type":"nominal"}}},
 {"data":{"name":"thr"},"transform":[{"filter":"datum.p=='C'"}],"mark":{"type":"text","fontSize":8.5,"color":"#333","align":"left","baseline":"middle","dx":3},
  "encoding":{"x":{"datum":0.165,"type":"quantitative"},"y":{"field":"y1","type":"quantitative"},"text":{"field":"y1","type":"nominal"}}},
 {"data":{"name":"thr"},"transform":[{"filter":"datum.p=='C'"}],"mark":{"type":"text","fontSize":8.5,"color":"#333","align":"left","baseline":"middle","dx":3},
  "encoding":{"x":{"datum":0.165,"type":"quantitative"},"y":{"field":"y0","type":"quantitative"},"text":{"field":"y0","type":"nominal"}}}
]},
{"layer": [
 {"data":{"name":"grid"},"transform":[{"filter":"datum.p=='D' && datum.d=='v'"}],"mark":{"type":"rule","stroke":"#4fc3dc","strokeDash":[2,2]},
  "encoding":{"x":{"field":"v","type":"quantitative","scale":{"domain":[0.181,0.367],"range":[491.7,595],"nice":false,"zero":false}},"y":{"datum":3.26,"type":"quantitative","scale":{"domain":[3.26,5.65],"range":[415,266.7],"nice":false,"zero":false}},"y2":{"datum":5.65}}},
 {"data":{"name":"grid"},"transform":[{"filter":"datum.p=='D' && datum.d=='h'"}],"mark":{"type":"rule","stroke":"#4fc3dc","strokeDash":[2,2]},
  "encoding":{"y":{"field":"v","type":"quantitative"},"x":{"datum":0.181,"type":"quantitative"},"x2":{"datum":0.367}}},
 {"data":{"name":"thr"},"transform":[{"filter":"datum.p=='D'"}],"mark":{"type":"rule","stroke":"#f6c4c4"},
  "encoding":{"x":{"field":"x0","type":"quantitative"},"y":{"field":"y1","type":"quantitative"},"y2":{"datum":5.65}}},
 {"data":{"name":"thr"},"transform":[{"filter":"datum.p=='D'"}],"mark":{"type":"rule","stroke":"#f6c4c4"},
  "encoding":{"x":{"field":"x1","type":"quantitative"},"y":{"field":"y1","type":"quantitative"},"y2":{"datum":5.65}}},
 {"data":{"name":"thr"},"transform":[{"filter":"datum.p=='D'"}],"mark":{"type":"rule","stroke":"#f6c4c4"},
  "encoding":{"x":{"field":"x1","type":"quantitative"},"x2":{"datum":0.367},"y":{"field":"y0","type":"quantitative"}}},
 {"data":{"name":"thr"},"transform":[{"filter":"datum.p=='D'"}],"mark":{"type":"rect","fillOpacity":0,"stroke":"#ea4848","strokeWidth":1.2},
  "encoding":{"x":{"field":"x0","type":"quantitative"},"x2":{"field":"x1"},"y":{"field":"y0","type":"quantitative"},"y2":{"field":"y1"}}},
 {"data":{"name":"pts"},"transform":[{"filter":"datum.p=='D'"}],"mark":{"type":"point","shape":"M-1,-1L1,1M-1,1L1,-1","filled":false,"strokeWidth":1.1,"size":36,"opacity":0.85},
  "encoding":{
   "x":{"field":"x","type":"quantitative","axis":{"zindex":1,"orient":"bottom","offset":-79,"values":[0.2,0.225,0.25,0.275,0.3,0.325,0.35],"labelExpr":"abs(datum.value*20-round(datum.value*20))<0.01 ? format(datum.value,'.2f') : ''","labelFontSize":10,"tickSize":4,"labelPadding":5,"title":null}},
   "y":{"field":"y","type":"quantitative","axis":{"zindex":1,"orient":"left","offset":-491.7,"values":[3.5,3.75,4,4.25,4.5,4.75,5,5.25,5.5],"labelExpr":"abs(datum.value*2-round(datum.value*2))<0.01 ? format(datum.value,'.1f') : ''","labelFontSize":10,"tickSize":4,"labelPadding":3,"title":"Form Factor","titleFontSize":10,"titleX":-46.7,"titleY":341,"titleBaseline":"middle","titleAngle":-90}},
   "color":{"field":"c","type":"nominal","scale":{"domain":["g","m","r","l"],"range":["#2bb24c","#b8479f","#e23b3b","#a08ad8"]},"legend":null}}},
 {"data":{"name":"thr"},"transform":[{"filter":"datum.p=='D'"}],"mark":{"type":"text","fontSize":8.5,"color":"#333","align":"center","baseline":"middle","dy":-6},
  "encoding":{"x":{"field":"x0","type":"quantitative"},"y":{"datum":5.65,"type":"quantitative"},"text":{"field":"x0","type":"nominal"}}},
 {"data":{"name":"thr"},"transform":[{"filter":"datum.p=='D'"}],"mark":{"type":"text","fontSize":8.5,"color":"#333","align":"center","baseline":"middle","dy":-6},
  "encoding":{"x":{"field":"x1","type":"quantitative"},"y":{"datum":5.65,"type":"quantitative"},"text":{"field":"x1","type":"nominal"}}},
 {"data":{"name":"thr"},"transform":[{"filter":"datum.p=='D'"}],"mark":{"type":"text","fontSize":8.5,"color":"#333","align":"left","baseline":"middle","dx":3},
  "encoding":{"x":{"datum":0.367,"type":"quantitative"},"y":{"field":"y1","type":"quantitative"},"text":{"field":"y1","type":"nominal"}}},
 {"data":{"name":"thr"},"transform":[{"filter":"datum.p=='D'"}],"mark":{"type":"text","fontSize":8.5,"color":"#333","align":"left","baseline":"middle","dx":3},
  "encoding":{"x":{"datum":0.367,"type":"quantitative"},"y":{"field":"y0","type":"quantitative"},"text":{"field":"y0","type":"nominal"}}}
]}
]
}
